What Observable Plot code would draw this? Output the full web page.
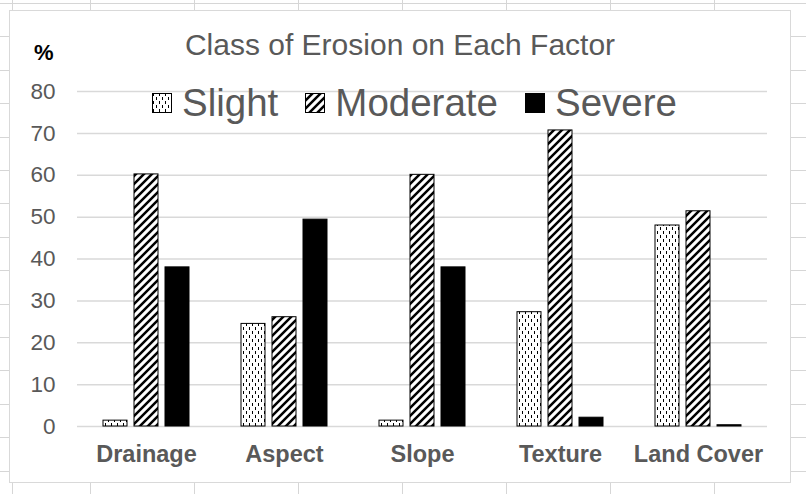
<!DOCTYPE html>
<html><head><meta charset="utf-8">
<script src="https://cdn.jsdelivr.net/npm/d3@7"></script>
<script src="https://cdn.jsdelivr.net/npm/@observablehq/plot@0.6"></script>
<style>
html,body{margin:0;padding:0}
body{width:806px;height:494px;overflow:hidden;position:relative;background-color:#fff;
background-image:
 repeating-linear-gradient(to right, #d6d6d6 0 1px, transparent 1px 104px),
 repeating-linear-gradient(to bottom, #d6d6d6 0 1px, transparent 1px 33.4px);
background-position: 90px 0, 0 3px;
font-family:"Liberation Sans", Arial, sans-serif;}
#box{position:absolute;left:10px;top:11px;width:780px;height:471px;background:#fff;box-shadow:0 0 0 1px #d9d9d9;}
#chart{position:absolute;left:10px;top:11px;}
#title{position:absolute;left:10px;width:780px;top:30px;text-align:center;font-size:30px;line-height:1;color:#595959;white-space:nowrap}
#pct{position:absolute;left:34px;top:42px;font-size:22px;font-weight:bold;line-height:1;color:#000}
#legend{position:absolute;left:152px;top:84px;display:flex;align-items:center;font-size:38.5px;line-height:1;color:#595959;white-space:nowrap}
.item{display:flex;align-items:center;margin-right:27px}
.item svg{margin-right:9px;display:block}
#defs{position:absolute;width:0;height:0;left:0;top:0}
</style></head>
<body>
<svg id="defs" width="0" height="0">
  <defs>
    <pattern id="slightPat" width="6" height="8" patternUnits="userSpaceOnUse">
      <rect width="6" height="8" fill="#fff"/>
      <rect x="1" y="0" width="1" height="3" fill="#000"/>
      <rect x="4" y="4" width="1" height="3" fill="#000"/>
    </pattern>
    <pattern id="moderatePat" width="8" height="8" patternUnits="userSpaceOnUse">
      <rect width="8" height="8" fill="#fff"/>
      <path d="M-2,2 L2,-2 M0,8 L8,0 M6,10 L10,6" stroke="#000" stroke-width="2.5"/>
    </pattern>
  </defs>
</svg>
<div id="box"></div>
<div id="chart"></div>
<div id="title">Class of Erosion on Each Factor</div>
<div id="pct">%</div>
<div id="legend"></div>
<script>
const categories = ["Drainage", "Aspect", "Slope", "Texture", "Land Cover"];
const series = ["Slight", "Moderate", "Severe"];
const slight = [1.4, 24.5, 1.4, 27.3, 48.0];
const moderate = [60.2, 26.1, 60.1, 70.7, 51.4];
const severe = [38.0, 49.4, 38.0, 2.1, 0.3];
const yTicks = [0, 10, 20, 30, 40, 50, 60, 70, 80];
const fills = ["url(#slightPat)", "url(#moderatePat)", "#000"];

const valuesBySeries = [slight, moderate, severe];
const data = categories.flatMap((c, i) =>
  series.map((s, j) => ({category: c, series: s, value: valuesBySeries[j][i]})));

const chart = Plot.plot({
  width: 780, height: 471,
  marginLeft: 66, marginRight: 23, marginTop: 80, marginBottom: 56,
  style: {background: "transparent", color: "#595959", fontFamily: "'Liberation Sans', Arial, sans-serif", overflow: "visible"},
  fx: {domain: categories, padding: 0, label: null},
  x: {domain: series, paddingInner: 0.219, paddingOuter: 0.766, axis: null},
  y: {domain: [0, 80], label: null},
  color: {domain: series, range: fills},
  marks: [
    Plot.gridY(yTicks, {stroke: "#d9d9d9", strokeOpacity: 1, strokeWidth: 1.5}),
    Plot.axisY(yTicks, {tickSize: 0, tickPadding: 22, fontSize: 22.5, label: null}),
    Plot.axisFx({anchor: "bottom", tickSize: 0, tickPadding: 19, fontSize: 23.5, fontWeight: "bold", label: null}),
    Plot.barY(data, {fx: "category", x: "series", y: "value", fill: "series", stroke: "#000", strokeWidth: 1})
  ]
});
document.getElementById("chart").appendChild(chart);

const legend = document.getElementById("legend");
series.forEach((s, j) => {
  const item = document.createElement("div");
  item.className = "item";
  item.innerHTML = `<svg width="21" height="20"><rect x="0.5" y="0.5" width="19" height="19" fill="${fills[j]}" stroke="#000" stroke-width="1"/></svg><span>${s}</span>`;
  legend.appendChild(item);
});
</script>
</body></html>
